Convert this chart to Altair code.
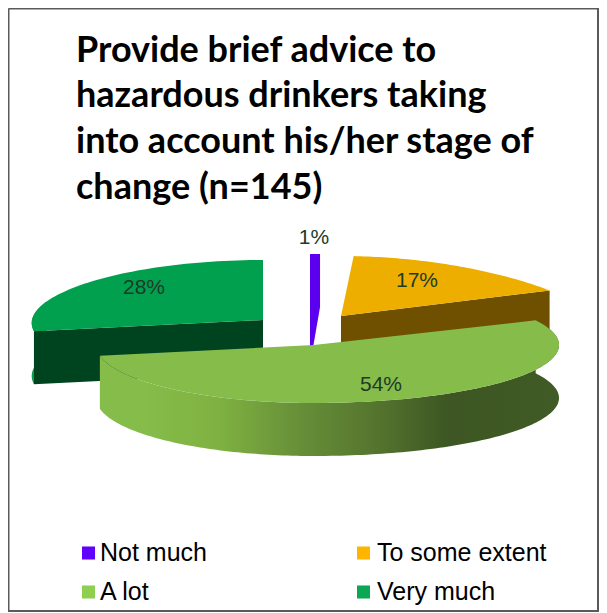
import numpy as np
import pandas as pd
import altair as alt

CATEGORIES = ["Not much", "To some extent", "A lot", "Very much"]
VALUES = [1, 17, 54, 28]
LABELS = ["1%", "17%", "54%", "28%"]
TITLE_LINES = ["Provide brief advice to", "hazardous drinkers taking",
               "into account his/her stage of", "change (n=145)"]
TOP_COLORS = ["#5A00EE", "#EEAE00", "#85BC4A", "#00A04F"]
LEGEND_COLORS = ["#6000FF", "#FFB500", "#8FCF4F", "#0AA854"]

# page-pixel layout
X0, X1, Y0, Y1 = 8, 599, 8, 612
WALL = 53
GEOM = {
    "Not much": dict(cx=310, cy=312, rxL=160, rxR=160, ry=58, k=0),
    "To some extent": dict(cx=341, cy=316, rxL=232, rxR=252, ry=60, k=0.2),
    "A lot": dict(cx=314, cy=345, rxL=218, rxR=245, ry=58, k=0),
    "Very much": dict(cx=263, cy=320, rxL=231, rxR=231, ry=60, k=0.05),
}
LABEL_POS = [(314, 238), (417, 281), (381, 385), (144, 288)]
LEGEND_POS = [(88.5, 553, 100), (363.5, 553, 377), (88.5, 592, 100), (363.5, 592, 377)]
TITLE_POS = [(76, 62), (76, 107), (76, 153), (76, 199)]

xs = alt.X("x:Q", scale=alt.Scale(domain=[X0, X1], zero=False, nice=False), axis=None)
ys = alt.Y("y:Q", scale=alt.Scale(domain=[Y1, Y0], zero=False, nice=False), axis=None)


def pt(g, th, drop=0.0):
    s, c = np.sin(th), np.cos(th)
    rx = g["rxR"] if s >= 0 else g["rxL"]
    return (g["cx"] + rx * s * (1 - g["k"] * c), g["cy"] - g["ry"] * c + drop)


def arc(g, a, b, drop=0.0, n=60):
    return [pt(g, t, drop) for t in np.linspace(a, b, n)]


def poly(points, fill):
    df = pd.DataFrame(points, columns=["x", "y"])
    df["i"] = range(len(df))
    return alt.Chart(df).mark_line(fill=fill, stroke="transparent", strokeWidth=0,
                                   interpolate="linear").encode(xs, ys, order="i:Q")


edges = np.cumsum([0] + VALUES) / sum(VALUES) * 2 * np.pi
ang = {c: (edges[i], edges[i + 1]) for i, c in enumerate(CATEGORIES)}
layers = []

# Very much
g = GEOM["Very much"]; a, b = ang["Very much"]
layers.append(poly(arc(g, a, a + 0.5) + arc(g, a, a + 0.5, WALL)[::-1], "#0A9E4C"))
corner = pt(g, a)
tip = (g["cx"], g["cy"])
layers.append(poly([tip, corner, (corner[0], corner[1] + WALL), (tip[0], tip[1] + WALL)], "#00431F"))
layers.append(poly([tip] + arc(g, a, b), TOP_COLORS[3]))

# Not much
g = GEOM["Not much"]; a, b = ang["Not much"]
tip = (g["cx"], g["cy"])
corner = pt(g, b)
layers.append(poly([pt(g, a), corner, (corner[0], corner[1] + WALL), (tip[0], tip[1] + WALL), tip], TOP_COLORS[0]))

# To some extent
g = GEOM["To some extent"]; a, b = ang["To some extent"]
tip = (g["cx"], g["cy"])
corner = pt(g, b)
layers.append(poly([tip, corner, (corner[0], corner[1] + WALL), (tip[0], tip[1] + WALL)], "#6F5000"))
layers.append(poly([tip] + arc(g, a, b), TOP_COLORS[1]))

# A lot
g = GEOM["A lot"]; a, b = ang["A lot"]
tip = (g["cx"], g["cy"])
wall_fill = alt.LinearGradient(
    gradient="linear", x1=0, x2=1, y1=0, y2=0,
    stops=[alt.GradientStop(offset=0, color="#85BC4A"),
           alt.GradientStop(offset=0.1, color="#85BC4A"),
           alt.GradientStop(offset=0.26, color="#7FB141"),
           alt.GradientStop(offset=0.44, color="#668E38"),
           alt.GradientStop(offset=0.6, color="#55752E"),
           alt.GradientStop(offset=0.76, color="#3D5623"),
           alt.GradientStop(offset=1, color="#405B25")])
layers.append(poly(arc(g, a, b, 0, 160) + arc(g, a, b, WALL, 160)[::-1], wall_fill))
layers.append(poly([tip] + arc(g, a, b, 0, 160), TOP_COLORS[2]))

# percentage labels
lab = pd.DataFrame({"x": [p[0] for p in LABEL_POS], "y": [p[1] for p in LABEL_POS], "t": LABELS})
layers.append(alt.Chart(lab).mark_text(font="Liberation Sans", fontSize=21, color="#1E3A28",
                                       align="center", baseline="middle").encode(xs, ys, text="t:N"))

# legend
leg = pd.DataFrame({"x": [p[0] for p in LEGEND_POS], "y": [p[1] for p in LEGEND_POS],
                    "tx": [p[2] for p in LEGEND_POS], "cat": CATEGORIES, "c": LEGEND_COLORS})
layers.append(alt.Chart(leg).mark_square(size=170, opacity=1, filled=True).encode(xs, ys, color=alt.Color("c:N", scale=None)))
layers.append(alt.Chart(leg).mark_text(font="Liberation Sans", fontSize=25, color="#000000",
                                       align="left", baseline="middle").encode(
    x=alt.X("tx:Q", scale=alt.Scale(domain=[X0, X1], zero=False, nice=False), axis=None), y=ys, text="cat:N"))

# title
ttl = pd.DataFrame({"x": [p[0] for p in TITLE_POS], "y": [p[1] for p in TITLE_POS], "t": TITLE_LINES})
layers.append(alt.Chart(ttl).mark_text(font="Lato", fontWeight="bold", fontSize=36, color="#000000",
                                       align="left", baseline="alphabetic").encode(xs, ys, text="t:N"))

# frame
fx = [X0 + 0.5, X1 - 1, X1 - 1, X0 + 0.5, X0 + 0.5]
fy = [Y0 + 0.5, Y0 + 0.5, Y1 - 1, Y1 - 1, Y0 + 0.5]
fr = pd.DataFrame({"x": fx, "y": fy, "i": range(5)})
layers.append(alt.Chart(fr).mark_line(color="#5A5A5A", strokeWidth=2).encode(xs, ys, order="i:Q"))

chart = alt.layer(*layers).properties(
    width=X1 - X0, height=Y1 - Y0, padding=0,
    autosize=alt.AutoSizeParams(type="none"), background="#FFFFFF"
).configure_view(stroke=None)

chart.save("out.html", embed_options={"renderer": "svg", "actions": False})
